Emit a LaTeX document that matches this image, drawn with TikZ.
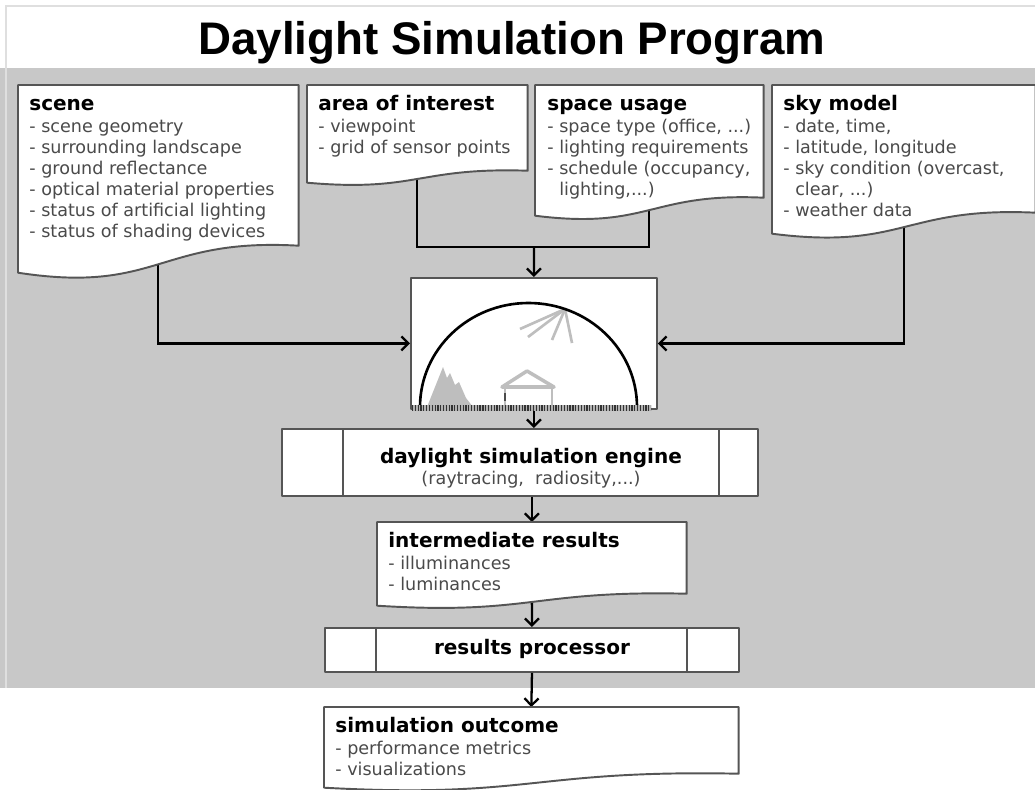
\documentclass[tikz,border=0pt]{standalone}
\usepackage{fontspec}
\setmainfont{DejaVu Sans}
\newfontfamily\titlefont{Liberation Sans}
\usetikzlibrary{arrows.meta,calc}

\definecolor{bandgray}{HTML}{C8C8C8}
\definecolor{boxgray}{HTML}{555555}
\definecolor{itemgray}{HTML}{4A4A4A}
\definecolor{pictgray}{HTML}{BEBEBE}

% bold first line of a box
\newcommand{\hd}{\fontsize{11.4}{13.7}\selectfont\bfseries\color{black}\strut}
% indent for a wrapped list line
\newcommand{\cont}{\hphantom{-~}}
% document outline with a wavy bottom edge, #2 = drop of the left corner
\newcommand{\docwave}[2]{%
  \filldraw[box] (#1.north west) -- ($(#1.south west)+(0,-#2)$)
    .. controls ($(#1.south)+(0,-1.8*#2)$) and ($(#1.south)+(0,0.3*#2)$) .. (#1.south east)
    -- (#1.north east) -- cycle;}
% vertical cell line at distance #2 from the west (>0) or east (<0) side
\newcommand{\cell}[2]{%
  \draw[boxgray, line width=1.1pt] ($(#1.north west)+(#2,0)$) -- ($(#1.south west)+(#2,0)$);}

\begin{document}
\begin{tikzpicture}[scale=0.2]
            \tikzstyle{every node}+=[inner sep=0pt]
            \tikzstyle{box}=[draw=boxgray, fill=white, line width=1.1pt, line join=round]
            \tikzstyle{doc}=[anchor=north west]
            \tikzstyle{doctext}=[anchor=north west, align=left, text=itemgray, font=\fontsize{10}{11.9}\selectfont]
            \tikzstyle{link}=[black, line width=1.3pt]
            \tikzstyle{flow}=[link, -{Straight Barb[length=4pt,width=8pt]}]
            \tikzstyle{pict}=[pictgray, line width=1.5pt, line join=round]
            \useasboundingbox (0,0) rectangle (103.5,-78.9);
            % title band and grey canvas
            \fill [bandgray] (0,-6.8) rectangle (103.5,-68.8);
            \draw [gray!25, line width=1.2pt] (0.6,-68.8) -- (0.6,-0.6) -- (103.5,-0.6);
            \node [anchor=base, font=\titlefont\fontsize{26}{30}\selectfont\bfseries] (title) at (51.2,-5.45) {Daylight Simulation Program};
            % inputs (outlines come after the connectors)
            \node [doc, minimum width=5.6cm, minimum height=3.2cm] (scene) at (1.8,-8.5) {};
            \node [doc, minimum width=4.4cm, minimum height=1.7cm] (aoi) at (30.7,-8.5) {};
            \node [doc, minimum width=4.56cm, minimum height=2.24cm] (usage) at (53.5,-8.5) {};
            \node [doc, minimum width=5.26cm, minimum height=2.54cm] (sky) at (77.2,-8.5) {};
            % processing chain
            \node [box, doc, minimum width=4.92cm, minimum height=2.62cm] (skydome) at (41.0,-27.7) {};
            \node [box, doc, minimum width=9.52cm, minimum height=1.34cm] (engine) at (28.1,-42.8) {};
            \node [doc, minimum width=6.18cm, minimum height=1.42cm] (interm) at (37.7,-52.2) {};
            \node [box, doc, minimum width=8.28cm, minimum height=0.88cm] (processor) at (32.4,-62.7) {\hd results processor};
            \node [doc, minimum width=8.28cm, minimum height=1.32cm] (outcome) at (32.4,-70.7) {};
            % connectors
            \coordinate (join) at ($(skydome.north)+(0,3.0)$);
            \draw [link] (aoi.south) |- (join) -| (usage.south);
            \draw [flow] (join) -- (skydome.north);
            \draw [flow] (scene.south) |- (skydome.west);
            \draw [flow] (sky.south) |- (skydome.east);
            \draw [flow] (skydome.south) -- (skydome.south |- engine.north);
            \draw [flow] (interm.north |- engine.south) -- (interm.north);
            \draw [flow] (interm.south) -- (processor.north);
            \draw [flow] (processor.south) -- (outcome.north);
            % document outlines
            \docwave{scene}{2.7}
            \docwave{aoi}{1.2}
            \docwave{usage}{1.8}
            \docwave{sky}{2.1}
            \docwave{interm}{1.2}
            \docwave{outcome}{1.4}
            % cell lines of the two process boxes
            \cell{engine}{6.2}
            \cell{engine}{43.8}
            \cell{processor}{5.2}
            \cell{processor}{36.3}
            % sky dome sketch: mountain, house, sun rays, dome, ground
            \fill [pictgray] (42.7,-40.7) -- (44.3,-36.7) -- (44.7,-37.8) -- (45.0,-37.3) -- (45.5,-38.5) -- (45.9,-38.2) -- (46.6,-39.8) -- (47.3,-40.7) -- cycle;
            \draw [pict] (50.5,-40.7) -- (50.5,-38.7);
            \draw [pict] (55.2,-38.7) -- (55.2,-40.7);
            \draw [pict, line width=2pt] (50.2,-38.7) -- (52.7,-37.1) -- (55.4,-38.7) -- cycle;
            \draw [black!70, line width=1pt] (50.5,-39.3) -- (50.5,-40.1);
            \draw [pict] (56.5,-30.9) -- (52.0,-32.9);
            \draw [pict] (56.5,-30.9) -- (52.8,-33.7);
            \draw [pict] (56.5,-30.9) -- (55.2,-34.0);
            \draw [pict] (56.5,-30.9) -- (57.2,-34.3);
            \draw [black, line width=1.5pt] (42.0,-40.7) arc (180:0:10.85 and 10.4);
            \fill [gray!60] (41.2,-40.5) rectangle (65.1,-41.1);
            \draw [black!80, line width=0.12cm, dash pattern=on 0.7pt off 0.9pt] (41.2,-40.8) -- (65.1,-40.8);
            % texts
            \node [doctext] (scenetext) at (2.9,-9.3) {{\hd scene}\\[1pt]
              - scene geometry\\
              - surrounding landscape\\
              - ground reflectance\\
              - optical material properties\\
              - status of artificial lighting\\
              - status of shading devices};
            \node [doctext] (aoitext) at (31.8,-9.3) {{\hd area of interest}\\[1pt]
              - viewpoint\\
              - grid of sensor points};
            \node [doctext] (usagetext) at (54.7,-9.3) {{\hd space usage}\\[1pt]
              - space type (office, ...)\\
              - lighting requirements\\
              - schedule (occupancy,\\
              \cont lighting,...)};
            \node [doctext] (skytext) at (78.3,-9.3) {{\hd sky model}\\[1pt]
              - date, time,\\
              - latitude, longitude\\
              - sky condition (overcast,\\
              \cont clear, ...)\\
              - weather data};
            \node [doctext, anchor=center, align=center] (enginetext) at (53.1,-46.7) {{\hd daylight simulation engine}\\
              (raytracing,~ radiosity,...)};
            \node [doctext] (intermtext) at (38.8,-53.0) {{\hd intermediate results}\\[1pt]
              - illuminances\\
              - luminances};
            \node [doctext] (outcometext) at (33.5,-71.5) {{\hd simulation outcome}\\[1pt]
              - performance metrics\\
              - visualizations};
        \end{tikzpicture}
\end{document}
